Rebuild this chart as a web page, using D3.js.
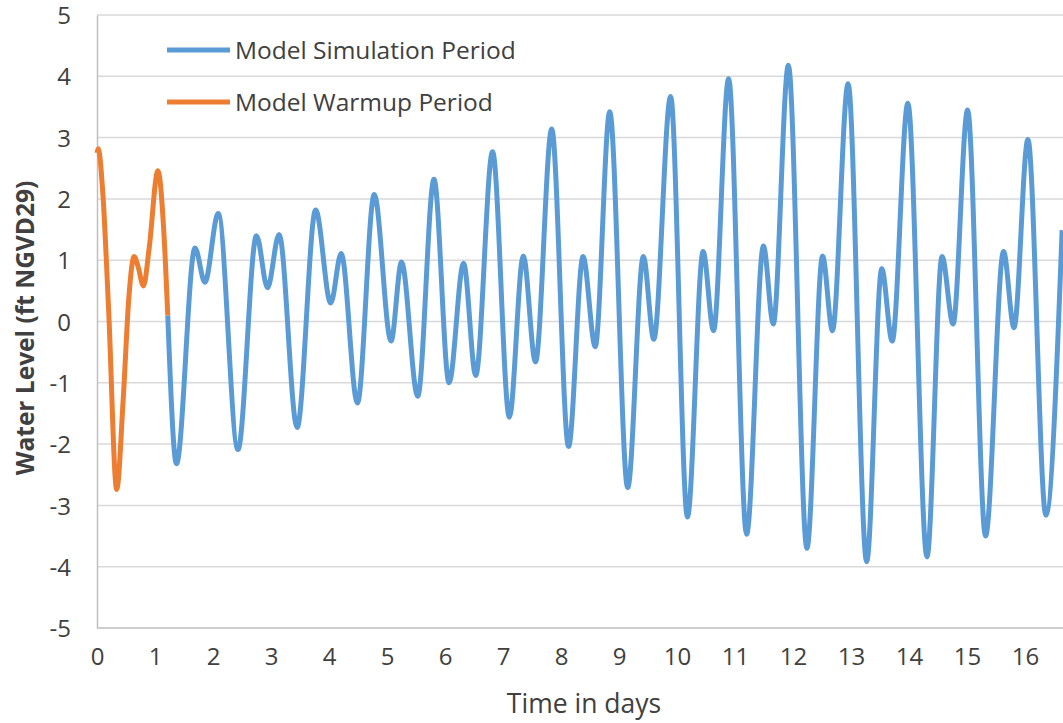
<!DOCTYPE html>
<html>
<head>
<meta charset="utf-8">
<script src="https://cdn.jsdelivr.net/npm/d3@7"></script>
<style>
  body { margin: 0; background: #fff; }
  text { font-family: "Open Sans", "Noto Sans", sans-serif; fill: #404040; }
</style>
</head>
<body>
<div id="chart"></div>
<script>
// warmup period: turning points (days, ft)
const warmupT = [0, 0.02, 0.1, 0.2, 0.34, 0.45, 0.55, 0.64, 0.71, 0.8, 0.9, 1.05, 1.15, 1.22]
const warmupV = [2.75, 2.82, 2.1, 0.2, -2.74, -1.3, 0.4, 1.06, 0.89, 0.58, 1.2, 2.46, 1.5, 0.1]

// simulation period
const simT = [1.22, 1.37, 1.69, 1.86, 2.09, 2.43, 2.75, 2.94, 3.14, 3.45, 3.77, 4.03, 4.21, 4.49,
  4.78, 5.07, 5.25, 5.53, 5.81, 6.07, 6.32, 6.53, 6.82, 7.11, 7.35, 7.56, 7.84, 8.13,
  8.38, 8.59, 8.84, 9.15, 9.42, 9.6, 9.89, 10.18, 10.45, 10.63, 10.89, 11.2,
  11.49, 11.66, 11.92, 12.24, 12.51, 12.68, 12.95, 13.27, 13.53, 13.71, 13.98, 14.31,
  14.57, 14.76, 15.01, 15.32, 15.63, 15.81, 16.05, 16.36, 16.64]
const simV = [0.1, -2.32, 1.2, 0.64, 1.76, -2.09, 1.4, 0.55, 1.42, -1.73, 1.82, 0.3, 1.11, -1.33,
  2.07, -0.32, 0.97, -1.22, 2.32, -1.0, 0.95, -0.88, 2.77, -1.56, 1.07, -0.66, 3.14, -2.04,
  1.06, -0.41, 3.42, -2.71, 1.06, -0.29, 3.67, -3.19, 1.14, -0.15, 3.96, -3.47,
  1.23, -0.04, 4.18, -3.7, 1.07, -0.15, 3.88, -3.92, 0.86, -0.32, 3.56, -3.84,
  1.06, -0.04, 3.45, -3.5, 1.14, -0.1, 2.97, -3.16, 1.49]

const yTicks = [5, 4, 3, 2, 1, 0, -1, -2, -3, -4, -5]
const xTicks = d3.range(0, 17)
const seriesNames = ["Model Simulation Period", "Model Warmup Period"]
const colors = ["#5b9bd5", "#ed7d31"]

const W = 1063, H = 723
const mLeft = 97, mTop = 15, mBottom = 628

const svg = d3.select("#chart").append("svg")
  .attr("width", W).attr("height", H)

const x = d3.scaleLinear().domain([0, 16]).range([mLeft, 1025])
const y = d3.scaleLinear().domain([-5, 5]).range([mBottom, mTop])

// gridlines
svg.append("g").selectAll("line")
  .data(yTicks.filter(d => d > -5))
  .join("line")
  .attr("x1", mLeft).attr("x2", W)
  .attr("y1", d => y(d)).attr("y2", d => y(d))
  .attr("stroke", "#d9d9d9").attr("stroke-width", 1.5)

// y axis (plain hyphen for negatives, like the original)
const yAxis = svg.append("g")
  .attr("transform", `translate(${mLeft},0)`)
  .call(d3.axisLeft(y).tickValues(yTicks).tickSize(0).tickPadding(26)
    .tickFormat(d => String(d)))
yAxis.select(".domain").attr("stroke", "#bfbfbf").attr("stroke-width", 1.5)
yAxis.selectAll("text").style("font-size", "24px").attr("fill", "#404040")
  .attr("dy", "0.36em")

// x axis
const xAxis = svg.append("g")
  .attr("transform", `translate(0,${mBottom})`)
  .call(d3.axisBottom(x).tickValues(xTicks).tickSize(0).tickPadding(20))
xAxis.select(".domain").remove()
svg.append("line")
  .attr("x1", mLeft).attr("x2", W)
  .attr("y1", mBottom).attr("y2", mBottom)
  .attr("stroke", "#bfbfbf").attr("stroke-width", 1.5)
xAxis.selectAll("text").style("font-size", "24px").attr("fill", "#404040")

// lines
const line = d3.line()
  .x(d => x(d[0])).y(d => y(d[1]))
  .curve(d3.curveMonotoneX)

svg.append("path")
  .datum(simT.map((t, i) => [t, simV[i]]))
  .attr("d", line)
  .attr("fill", "none").attr("stroke", colors[0]).attr("stroke-width", 5)
  .attr("stroke-linejoin", "round")

svg.append("path")
  .datum(warmupT.map((t, i) => [t, warmupV[i]]))
  .attr("d", line)
  .attr("fill", "none").attr("stroke", colors[1]).attr("stroke-width", 5)
  .attr("stroke-linejoin", "round")

// legend
const legend = svg.append("g")
seriesNames.forEach((name, i) => {
  const ly = 50 + i * 52
  legend.append("line")
    .attr("x1", 167).attr("x2", 230).attr("y1", ly).attr("y2", ly)
    .attr("stroke", colors[i]).attr("stroke-width", 5)
  legend.append("text")
    .attr("x", 235).attr("y", ly + 9)
    .style("font-size", "24.5px")
    .text(name)
})

// axis titles
svg.append("text")
  .attr("transform", "translate(34,328) rotate(-90)")
  .attr("text-anchor", "middle")
  .style("font-size", "24.5px").style("font-weight", "bold")
  .text("Water Level (ft NGVD29)")

svg.append("text")
  .attr("x", 584).attr("y", 713)
  .attr("text-anchor", "middle")
  .style("font-size", "26.5px")
  .text("Time in days")
</script>
</body>
</html>
